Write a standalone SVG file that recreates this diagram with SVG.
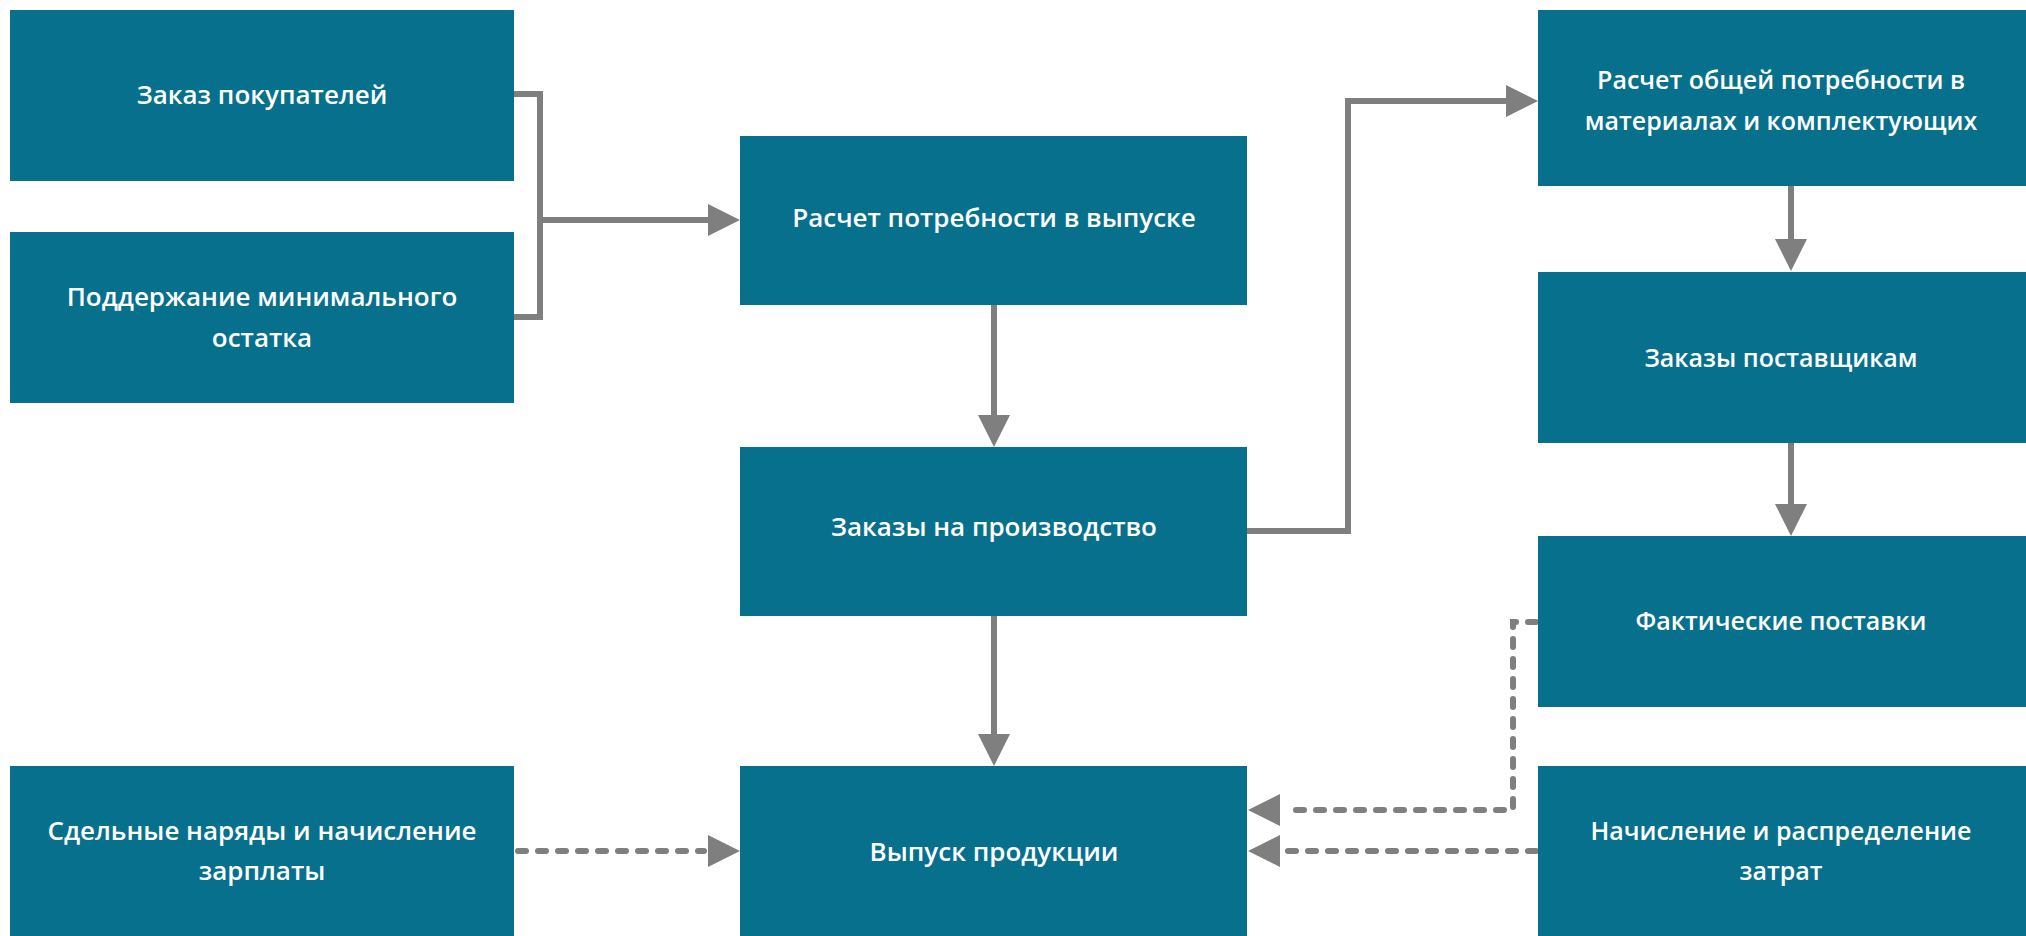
<svg xmlns="http://www.w3.org/2000/svg" width="2026" height="936" viewBox="0 0 2026 936">
<style>
.box{fill:#07708c;}
.t{font-family:"Open Sans","Noto Sans","DejaVu Sans",sans-serif;font-size:26px;font-weight:600;fill:#ffffff;text-anchor:middle;}
.r{font-size:25px;}
.c{fill:none;stroke:#7f7f7f;stroke-width:6;}
.d{fill:none;stroke:#7f7f7f;stroke-width:6;stroke-dasharray:8 12;stroke-linecap:round;}
</style>
<defs>
<marker id="ah" markerUnits="userSpaceOnUse" markerWidth="34" markerHeight="34" refX="0" refY="16" orient="auto" viewBox="0 0 34 32">
<path d="M0,0 L32,16 L0,32 Z" fill="#7f7f7f"/>
</marker>
</defs>
<rect width="2026" height="936" fill="#ffffff"/>
<g id="connectors">
<path class="c" d="M514,94 H540 V317 H514"/>
<path class="c" d="M540,220 H708" marker-end="url(#ah)"/>
<path class="c" d="M994,304 V415" marker-end="url(#ah)"/>
<path class="c" d="M994,616 V734" marker-end="url(#ah)"/>
<path class="c" d="M1247,531 H1348 V101 H1506" marker-end="url(#ah)"/>
<path class="c" d="M1791,186 V239" marker-end="url(#ah)"/>
<path class="c" d="M1791,442 V504" marker-end="url(#ah)"/>
<path class="d" d="M1536,622 H1513 V810 H1284"/>
<path d="M1248,810 L1280,794 L1280,826 Z" fill="#7f7f7f"/>
<path class="d" d="M1536,851 H1284"/>
<path d="M1248,851 L1280,835 L1280,867 Z" fill="#7f7f7f"/>
<path class="d" d="M518,851 H704"/>
<path d="M740,851 L708,835 L708,867 Z" fill="#7f7f7f"/>
</g>
<g id="n1"><rect class="box" x="10" y="10" width="504" height="171"/><text class="t" x="262" y="104">Заказ покупателей</text></g>
<g id="n2"><rect class="box" x="10" y="232" width="504" height="171"/><text class="t" x="262" y="306">Поддержание минимального</text><text class="t" x="262" y="347">остатка</text></g>
<g id="n3"><rect class="box" x="740" y="136" width="507" height="169"/><text class="t" x="994" y="227">Расчет потребности в выпуске</text></g>
<g id="n4"><rect class="box" x="740" y="447" width="507" height="169"/><text class="t" x="994" y="536">Заказы на производство</text></g>
<g id="n5"><rect class="box" x="740" y="766" width="507" height="170"/><text class="t" x="994" y="861">Выпуск продукции</text></g>
<g id="n6"><rect class="box" x="10" y="766" width="504" height="170"/><text class="t" x="262" y="840">Сдельные наряды и начисление</text><text class="t" x="262" y="880">зарплаты</text></g>
<g id="n7"><rect class="box" x="1538" y="10" width="488" height="176"/><text class="t r" x="1781" y="89">Расчет общей потребности в</text><text class="t r" x="1781" y="130">материалах и комплектующих</text></g>
<g id="n8"><rect class="box" x="1538" y="272" width="488" height="171"/><text class="t r" x="1781" y="367">Заказы поставщикам</text></g>
<g id="n9"><rect class="box" x="1538" y="536" width="488" height="171"/><text class="t r" x="1781" y="630">Фактические поставки</text></g>
<g id="n10"><rect class="box" x="1538" y="766" width="488" height="170"/><text class="t r" x="1781" y="840">Начисление и распределение</text><text class="t r" x="1781" y="880">затрат</text></g>
</svg>
